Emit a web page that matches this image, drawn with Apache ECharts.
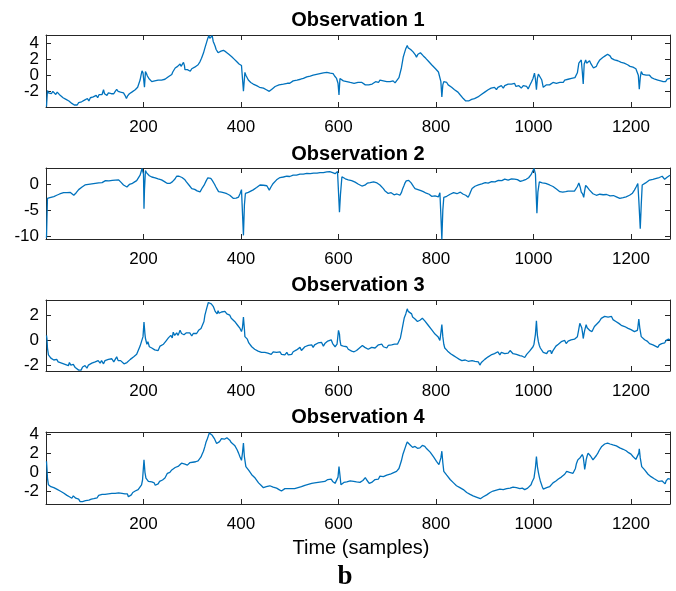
<!DOCTYPE html>
<html>
<head>
<meta charset="UTF-8">
<title>Observations</title>
<script src="https://cdn.jsdelivr.net/npm/echarts@6/dist/echarts.min.js"></script>
<style>
html, body { margin: 0; padding: 0; background: #fff; }
#chart { width: 676px; height: 591px; }
</style>
</head>
<body>
<div id="chart"></div>
<script>
// [sample, value]
const obs1 = [[1,-3.9],[3,-1.9],[5,-2.2],[8,-2.0],[11,-2.3],[14,-2.0],[17,-2.2],[20,-2.4],[23,-2.1],[26,-2.3],[29,-2.5],[32,-2.5],[35,-2.8],[38,-2.7],[41,-3.0],[44,-2.9],[47,-3.2],[50,-3.2],[53,-3.5],[55,-3.4],[58,-3.7],[60,-3.8],[62,-3.6],[64,-3.7],[67,-3.4],[70,-3.6],[73,-3.3],[76,-3.4],[79,-3.1],[82,-3.2],[85,-2.9],[88,-3.2],[91,-2.8],[94,-3.0],[97,-2.7],[100,-2.8],[103,-2.5],[106,-2.8],[109,-2.4],[111,-2.6],[115,-2.4],[118,-1.8],[120,-2.3],[122,-2.2],[125,-2.5],[128,-2.2],[131,-2.4],[134,-2.3],[137,-2.1],[139,-2.3],[142,-2.0],[145,-1.75],[148,-2.0],[150,-1.9],[153,-2.1],[155,-1.9],[157,-2.1],[159,-2.2],[162,-2.5],[165,-2.9],[167,-2.6],[169,-2.5],[171,-2.3],[173,-2.3],[176,-2.1],[180,-2.1],[183,-1.8],[186,-1.7],[188,-1.5],[190,-1.3],[193,-0.6],[195,0.0],[197,0.55],[199,0.3],[200,0.2],[202,-1.5],[204,0.45],[206,0.2],[208,-0.1],[211,-0.4],[214,-0.6],[217,-0.8],[220,-0.9],[223,-0.7],[226,-0.8],[230,-0.6],[234,-0.8],[237,-0.6],[240,-0.7],[244,-0.5],[248,-0.6],[251,-0.2],[255,0.0],[258,0.1],[260,0.4],[263,0.6],[265,0.9],[268,0.7],[270,1.1],[273,1.0],[275,1.4],[277,1.1],[279,1.3],[282,1.6],[284,1.2],[285,0.7],[288,0.9],[290,0.7],[293,0.8],[296,0.5],[299,0.8],[302,0.7],[305,1.0],[309,1.1],[312,1.3],[316,1.7],[319,2.1],[323,2.75],[326,3.4],[330,4.2],[332,4.6],[334,4.9],[336,4.6],[338,4.8],[341,4.9],[343,4.2],[345,3.9],[347,3.6],[349,3.2],[350,3.0],[353,2.8],[357,2.75],[359,3.0],[362,2.9],[364,3.1],[367,3.2],[369,2.9],[372,2.9],[375,2.6],[378,2.5],[381,2.3],[383,2.3],[386,2.0],[388,1.9],[391,1.7],[393,1.6],[396,1.4],[398,1.3],[401,1.2],[403,1.1],[405,-2.0],[408,0.35],[410,0.0],[412,-0.2],[415,-0.6],[418,-0.7],[420,-0.9],[423,-0.8],[425,-1.1],[428,-1.0],[432,-1.3],[435,-1.2],[438,-1.5],[442,-1.3],[446,-1.6],[449,-1.5],[452,-1.8],[455,-1.7],[458,-2.0],[461,-1.9],[464,-1.7],[467,-1.6],[470,-1.4],[474,-1.5],[478,-1.2],[482,-1.4],[487,-1.1],[491,-1.3],[495,-1.0],[498,-1.2],[500,-1.0],[504,-0.9],[507,-0.7],[511,-0.9],[515,-0.6],[518,-0.8],[522,-0.5],[525,-0.7],[528,-0.4],[532,-0.5],[535,-0.2],[538,-0.4],[542,-0.1],[545,-0.3],[548,0.0],[552,-0.1],[555,0.1],[558,0.0],[562,0.2],[565,0.1],[569,0.3],[572,0.15],[576,0.35],[579,0.2],[583,0.25],[586,0.1],[589,0.2],[592,-0.1],[596,-0.4],[599,-1.0],[601,-2.45],[603,-0.4],[606,-0.5],[610,-0.7],[613,-0.6],[617,-0.8],[620,-0.7],[624,-0.9],[628,-0.8],[632,-1.0],[636,-0.8],[640,-0.9],[644,-1.1],[648,-0.9],[652,-1.0],[655,-1.2],[658,-1.0],[662,-1.2],[665,-1.0],[669,-1.1],[672,-0.9],[676,-0.8],[679,-0.7],[682,-0.9],[685,-0.6],[689,-0.8],[692,-0.7],[695,-0.9],[699,-0.8],[702,-1.0],[706,-0.8],[709,-0.9],[712,-0.7],[716,-0.95],[719,-0.7],[722,-0.5],[724,-0.3],[726,-0.15],[729,0.9],[733,2.3],[736,2.9],[738,3.3],[741,3.7],[743,3.4],[745,3.5],[748,3.2],[750,3.3],[753,2.9],[755,2.8],[758,2.5],[760,2.25],[763,2.6],[765,2.5],[768,2.8],[771,2.7],[774,2.4],[776,2.4],[779,2.1],[781,2.0],[785,1.7],[788,1.6],[791,1.3],[795,1.2],[799,0.8],[802,0.7],[805,0.4],[808,0.25],[810,-0.8],[812,-2.7],[814,-1.2],[816,-0.8],[819,-1.0],[822,-0.9],[825,-1.2],[829,-1.3],[832,-1.5],[835,-1.6],[838,-1.8],[842,-2.0],[845,-2.1],[849,-2.4],[852,-2.6],[856,-2.9],[858,-2.9],[861,-3.2],[863,-3.3],[865,-3.4],[867,-3.2],[870,-3.3],[873,-3.0],[876,-3.1],[879,-2.9],[883,-2.9],[886,-2.7],[890,-2.7],[893,-2.4],[897,-2.4],[900,-2.1],[904,-2.1],[907,-1.8],[910,-1.9],[913,-1.6],[917,-1.7],[920,-1.5],[924,-1.8],[927,-1.5],[931,-1.5],[934,-1.3],[938,-1.6],[941,-1.3],[945,-1.4],[948,-1.1],[952,-1.3],[955,-1.1],[958,-1.2],[961,-1.0],[964,-1.4],[967,-1.2],[970,-1.3],[973,-1.4],[975,-1.6],[979,-1.3],[982,-1.5],[986,-1.4],[989,-1.7],[992,-1.3],[996,-0.8],[999,-0.4],[1002,0.25],[1004,-0.5],[1006,-1.8],[1008,-0.4],[1010,0.15],[1012,0.0],[1014,0.1],[1017,-0.6],[1020,-1.5],[1023,-1.3],[1026,-1.2],[1030,-1.4],[1033,-1.2],[1036,-1.1],[1040,-0.9],[1043,-1.1],[1047,-1.0],[1050,-0.8],[1054,-0.9],[1057,-0.7],[1061,-0.9],[1064,-0.6],[1068,-0.7],[1071,-0.5],[1074,-0.6],[1078,-0.4],[1081,-0.6],[1085,-0.3],[1088,-0.4],[1090,0.3],[1093,1.5],[1096,1.3],[1098,1.9],[1100,0.5],[1102,-1.1],[1104,1.4],[1107,1.9],[1109,1.5],[1111,1.7],[1113,1.4],[1115,1.8],[1118,1.4],[1120,1.2],[1123,0.9],[1126,0.75],[1129,1.1],[1131,1.4],[1134,1.6],[1136,1.9],[1139,2.0],[1142,2.2],[1145,2.1],[1147,2.4],[1150,2.3],[1152,2.6],[1155,2.4],[1157,2.4],[1160,2.1],[1163,2.1],[1166,1.9],[1170,2.1],[1173,1.8],[1177,1.9],[1180,1.6],[1183,1.8],[1186,1.5],[1190,1.6],[1193,1.3],[1195,1.4],[1198,1.1],[1200,1.3],[1204,1.0],[1207,1.1],[1210,0.8],[1214,0.9],[1215,0.0],[1217,-1.75],[1219,-0.3],[1221,0.45],[1224,0.1],[1228,0.3],[1231,0.0],[1235,-0.1],[1238,0.0],[1242,-0.3],[1245,-0.2],[1249,-0.5],[1252,-0.3],[1255,-0.6],[1258,-0.4],[1261,-0.7],[1264,-0.6],[1266,-0.8],[1269,-0.6],[1271,-0.8],[1274,-0.5],[1276,-0.4],[1278,-0.6],[1280,-0.4]];

const obs2 = [[1,-10.4],[3,-2.7],[6,-2.75],[8,-2.55],[12,-2.6],[16,-2.35],[19,-2.45],[22,-2.1],[25,-2.2],[28,-1.85],[32,-1.9],[36,-1.6],[40,-1.75],[43,-1.6],[47,-1.75],[50,-1.55],[54,-1.8],[57,-2.1],[60,-1.8],[62,-1.6],[65,-1.3],[67,-1.0],[71,-0.8],[74,-0.5],[77,-0.4],[80,-0.1],[84,0.2],[87,0.0],[90,0.15],[94,0.1],[97,0.35],[101,0.2],[104,0.45],[108,0.3],[111,0.55],[115,0.35],[118,0.45],[122,0.75],[125,0.6],[129,0.7],[132,0.55],[136,0.8],[139,0.65],[142,0.85],[145,0.75],[149,0.9],[152,0.6],[154,0.4],[157,0.1],[159,-0.1],[163,-0.4],[166,-0.5],[168,-0.2],[171,0.0],[174,0.25],[176,0.15],[179,0.35],[181,0.45],[184,0.5],[186,0.75],[190,1.1],[193,1.8],[197,3.1],[200,2.0],[201,-4.7],[202,-1.0],[204,2.7],[206,2.3],[209,2.0],[212,1.7],[214,1.5],[217,1.45],[220,1.25],[224,1.3],[227,1.05],[230,1.1],[234,0.85],[237,0.9],[240,0.65],[243,0.55],[246,0.4],[249,0.2],[251,0.05],[254,0.2],[256,0.35],[259,0.5],[261,0.75],[264,1.0],[266,1.3],[268,1.6],[270,1.8],[273,1.6],[276,1.55],[279,1.35],[282,1.25],[285,0.9],[288,0.5],[291,0.2],[294,-0.2],[297,-0.5],[299,-0.8],[302,-0.75],[305,-0.95],[308,-1.0],[310,-1.25],[313,-1.2],[316,-1.45],[318,-1.1],[321,-0.6],[324,-0.2],[326,0.2],[328,0.6],[330,0.9],[332,1.3],[334,1.5],[336,1.35],[338,1.2],[341,0.8],[343,0.5],[346,0.0],[348,-0.4],[351,-0.9],[354,-1.4],[357,-1.35],[360,-1.5],[363,-1.45],[366,-1.65],[369,-1.6],[371,-1.8],[374,-1.9],[377,-2.1],[380,-2.4],[384,-2.7],[387,-2.55],[390,-2.65],[393,-2.35],[395,-2.45],[398,-1.8],[401,-1.0],[403,-1.2],[405,-9.9],[407,-4.0],[409,-1.75],[412,-1.65],[415,-1.55],[418,-1.4],[420,-1.3],[423,-1.2],[425,-1.05],[429,-0.8],[432,-0.6],[436,-0.3],[439,-0.1],[442,-0.2],[446,-0.15],[449,-0.3],[453,-0.25],[456,-0.6],[458,-1.1],[460,-0.8],[462,-0.4],[466,0.2],[469,0.55],[473,0.9],[476,1.1],[480,1.35],[484,1.25],[487,1.45],[490,1.35],[494,1.6],[497,1.45],[500,1.55],[504,1.7],[507,1.8],[511,1.65],[514,1.8],[518,1.95],[521,2.0],[525,1.85],[528,2.0],[532,2.1],[535,2.15],[539,2.0],[542,2.1],[546,2.25],[549,2.2],[553,2.1],[556,2.2],[559,2.35],[562,2.3],[566,2.45],[569,2.3],[573,2.5],[576,2.45],[579,2.35],[582,2.5],[586,2.4],[588,2.3],[591,2.25],[593,2.1],[596,2.3],[598,2.5],[600,2.45],[602,-5.4],[604,-2.0],[607,1.5],[610,1.35],[614,1.1],[617,1.15],[620,0.9],[624,0.85],[627,0.75],[630,0.55],[634,0.45],[637,0.2],[641,0.05],[644,-0.15],[648,-0.3],[651,-0.45],[654,-0.15],[656,0.0],[659,0.25],[662,0.15],[665,0.35],[668,0.3],[672,0.5],[675,0.4],[679,0.3],[682,0.15],[685,-0.1],[688,-0.4],[692,-0.8],[695,-1.2],[699,-1.5],[702,-1.75],[705,-1.55],[708,-1.6],[711,-1.9],[714,-2.0],[717,-1.75],[720,-1.85],[723,-2.1],[726,-2.1],[729,-1.6],[731,-1.0],[734,-0.3],[736,0.2],[739,0.7],[741,1.0],[744,0.8],[746,0.6],[749,0.3],[751,0.0],[754,-0.4],[757,-0.8],[760,-0.85],[763,-1.0],[766,-1.1],[769,-1.2],[772,-1.25],[774,-1.4],[777,-1.5],[780,-1.7],[783,-1.65],[786,-1.9],[789,-2.0],[791,-2.3],[794,-2.15],[798,-2.2],[801,-2.35],[805,-2.4],[808,-1.6],[810,-6.0],[812,-10.7],[814,-5.0],[816,-2.5],[819,-2.35],[822,-2.3],[825,-2.1],[829,-1.9],[832,-1.8],[836,-1.6],[839,-1.75],[843,-1.8],[846,-1.6],[850,-1.5],[853,-1.7],[856,-1.9],[859,-1.85],[861,-2.1],[864,-2.3],[866,-2.5],[869,-1.9],[871,-1.4],[874,-0.8],[876,-0.45],[880,-0.35],[883,-0.3],[887,-0.1],[890,0.0],[894,0.1],[897,0.2],[901,0.35],[904,0.4],[907,0.25],[910,0.3],[914,0.55],[917,0.7],[921,0.5],[924,0.6],[928,0.8],[931,0.9],[935,0.75],[938,0.85],[941,1.05],[945,1.0],[948,0.85],[951,0.9],[955,1.1],[958,1.2],[961,1.05],[964,1.1],[967,0.95],[970,0.8],[973,0.6],[975,0.5],[978,0.75],[982,0.9],[985,1.0],[988,1.1],[990,1.3],[992,1.5],[995,1.9],[997,2.2],[999,2.7],[1001,3.1],[1004,2.0],[1007,-5.6],[1009,-1.5],[1012,0.5],[1015,0.35],[1018,0.3],[1021,0.4],[1025,0.2],[1029,0.1],[1033,-0.1],[1036,-0.2],[1040,-0.4],[1043,-0.6],[1047,-0.9],[1050,-1.1],[1054,-1.4],[1057,-1.3],[1060,-1.5],[1062,-1.6],[1064,-1.75],[1066,-1.4],[1069,-1.2],[1071,-1.3],[1074,-1.1],[1077,-1.3],[1081,-1.6],[1084,-1.3],[1088,-1.1],[1090,-0.4],[1093,0.3],[1095,0.0],[1096,-0.6],[1098,-1.5],[1101,-1.9],[1103,-2.5],[1105,-1.2],[1107,-0.2],[1109,-0.4],[1111,-0.6],[1113,-0.9],[1115,-1.1],[1118,-1.4],[1122,-1.8],[1125,-1.9],[1129,-2.1],[1132,-1.85],[1136,-1.9],[1139,-2.1],[1143,-2.0],[1146,-1.85],[1150,-1.95],[1153,-2.1],[1157,-2.2],[1160,-2.05],[1164,-2.15],[1167,-2.3],[1170,-2.4],[1174,-2.55],[1177,-2.7],[1180,-2.5],[1184,-2.55],[1187,-2.35],[1190,-2.4],[1194,-2.25],[1197,-2.1],[1200,-1.9],[1203,-1.7],[1205,-1.4],[1207,-1.1],[1209,-0.8],[1211,-0.4],[1214,0.2],[1216,-3.0],[1219,-8.6],[1221,-4.0],[1223,-0.1],[1226,0.1],[1230,0.3],[1234,0.6],[1238,0.85],[1241,0.8],[1245,1.0],[1248,1.05],[1252,1.2],[1255,1.15],[1258,1.35],[1261,1.4],[1264,1.6],[1266,1.3],[1269,1.0],[1272,1.2],[1274,1.4],[1277,1.6],[1280,1.8]];

const obs3 = [[1,0.4],[2,0.1],[3,-0.6],[5,-1.15],[7,-1.3],[10,-1.4],[13,-1.3],[16,-1.55],[19,-1.4],[22,-1.5],[25,-1.7],[29,-1.55],[32,-1.8],[36,-1.65],[39,-1.9],[43,-1.8],[46,-2.0],[48,-1.75],[51,-1.95],[53,-2.1],[56,-1.9],[60,-2.15],[63,-2.0],[67,-2.35],[70,-2.2],[72,-2.35],[75,-2.1],[77,-2.25],[80,-2.0],[84,-2.2],[87,-1.95],[91,-2.05],[94,-1.8],[98,-1.95],[101,-1.7],[104,-1.85],[107,-1.6],[111,-1.8],[114,-1.6],[118,-1.85],[121,-1.6],[125,-1.7],[128,-1.5],[132,-1.65],[135,-1.45],[139,-1.7],[142,-1.5],[145,-1.3],[148,-1.6],[150,-1.45],[153,-1.6],[156,-1.75],[160,-1.85],[163,-2.0],[166,-1.75],[170,-1.8],[173,-1.5],[176,-1.6],[180,-1.3],[183,-1.45],[186,-1.1],[190,-1.25],[193,-0.45],[197,-0.3],[199,0.3],[201,1.45],[203,0.5],[204,0.15],[207,-0.3],[209,-0.1],[212,-0.5],[214,-0.4],[217,-0.6],[220,-0.45],[223,-0.75],[227,-0.6],[230,-0.8],[234,-0.45],[237,-0.6],[241,-0.3],[244,-0.45],[246,-0.05],[249,-0.15],[251,0.2],[254,0.05],[256,0.4],[259,0.2],[261,0.65],[264,0.4],[268,0.6],[271,0.4],[275,0.8],[278,0.55],[280,0.7],[283,0.45],[285,0.35],[288,0.6],[292,0.45],[295,0.6],[299,0.35],[302,0.55],[306,0.7],[309,0.55],[313,0.8],[316,0.7],[318,0.95],[322,1.05],[324,1.5],[326,2.0],[328,2.3],[330,2.6],[333,3.0],[335,2.9],[337,3.15],[339,2.9],[341,3.05],[343,2.7],[345,2.5],[347,2.3],[349,2.25],[351,2.1],[353,2.35],[355,2.15],[357,2.0],[360,2.25],[364,2.1],[367,2.3],[371,2.1],[374,2.0],[377,2.0],[380,1.75],[384,1.8],[387,1.5],[390,1.5],[393,1.2],[395,1.3],[398,0.95],[401,0.7],[403,1.0],[405,1.85],[407,0.9],[408,0.3],[410,0.15],[413,0.1],[416,-0.2],[419,-0.25],[422,-0.5],[425,-0.45],[428,-0.7],[432,-0.7],[435,-0.85],[439,-0.75],[442,-0.95],[446,-0.85],[449,-0.95],[452,-0.8],[455,-1.0],[459,-0.85],[462,-1.1],[466,-0.9],[469,-1.05],[473,-0.95],[476,-1.1],[480,-0.9],[483,-1.1],[487,-1.0],[490,-1.15],[494,-0.95],[497,-1.15],[500,-1.05],[504,-1.1],[507,-0.9],[511,-0.95],[514,-0.75],[518,-0.7],[521,-0.55],[524,-0.8],[528,-0.65],[531,-0.5],[535,-0.6],[538,-0.4],[541,-0.5],[545,-0.35],[548,-0.55],[551,-0.35],[555,-0.45],[558,-0.2],[562,-0.35],[565,-0.15],[569,-0.45],[572,-0.25],[575,-0.3],[578,-0.05],[582,-0.1],[585,0.05],[588,-0.25],[591,-0.3],[593,-0.5],[597,-0.3],[600,0.8],[602,0.5],[603,0.0],[605,-0.4],[607,-0.5],[610,-0.45],[614,-0.6],[617,-0.5],[620,-0.7],[624,-0.65],[627,-0.85],[629,-0.75],[632,-0.9],[634,-1.05],[637,-0.8],[640,-0.7],[643,-0.6],[646,-0.65],[649,-0.4],[651,-0.35],[654,-0.55],[658,-0.5],[661,-0.7],[665,-0.8],[668,-0.55],[672,-0.45],[675,-0.6],[679,-0.5],[682,-0.35],[685,-0.45],[689,-0.3],[692,-0.5],[695,-0.4],[699,-0.6],[702,-0.4],[706,-0.55],[709,-0.35],[712,-0.5],[715,-0.3],[718,-0.45],[721,-0.3],[723,-0.2],[727,0.2],[730,0.8],[733,1.4],[735,1.8],[738,2.1],[741,2.5],[743,2.3],[745,2.35],[747,2.15],[750,2.1],[752,1.85],[754,1.95],[757,1.7],[759,1.75],[762,1.5],[764,1.45],[767,1.6],[769,1.5],[772,1.75],[774,1.65],[777,1.55],[781,1.4],[784,1.2],[788,1.1],[791,0.85],[795,0.75],[798,0.5],[801,0.4],[804,0.3],[806,0.15],[808,0.0],[810,0.6],[812,1.25],[814,0.3],[816,-0.3],[818,-0.6],[821,-0.7],[824,-0.85],[827,-0.8],[830,-1.05],[833,-0.95],[836,-1.2],[839,-1.1],[842,-1.35],[845,-1.25],[848,-1.5],[851,-1.4],[853,-1.6],[856,-1.45],[860,-1.55],[863,-1.5],[866,-1.65],[868,-1.5],[870,-1.7],[874,-1.6],[877,-1.75],[880,-1.65],[884,-1.8],[887,-1.7],[890,-1.95],[893,-1.75],[897,-1.7],[900,-1.5],[904,-1.5],[907,-1.3],[910,-1.4],[913,-1.15],[917,-1.3],[920,-1.05],[924,-1.1],[927,-0.9],[931,-1.15],[934,-0.95],[938,-0.85],[941,-1.05],[945,-0.9],[948,-1.0],[952,-0.8],[955,-0.95],[958,-1.05],[962,-0.9],[965,-1.1],[968,-1.0],[972,-1.2],[975,-1.1],[977,-1.25],[980,-1.15],[982,-1.35],[986,-1.1],[989,-1.05],[992,-0.85],[996,-0.7],[999,-0.5],[1001,-0.3],[1004,0.5],[1006,1.55],[1008,0.4],[1010,-0.1],[1012,-0.4],[1014,-0.6],[1016,-0.75],[1018,-0.65],[1020,-0.95],[1023,-0.85],[1027,-1.05],[1030,-0.85],[1033,-0.95],[1035,-0.8],[1037,-1.05],[1040,-0.8],[1043,-0.7],[1046,-0.45],[1048,-0.55],[1051,-0.3],[1054,-0.3],[1057,-0.1],[1061,-0.2],[1064,0.0],[1067,-0.25],[1071,-0.05],[1074,-0.15],[1077,0.05],[1081,-0.05],[1084,0.1],[1088,-0.05],[1090,0.3],[1092,0.7],[1095,1.35],[1097,1.2],[1099,1.0],[1101,0.5],[1102,0.15],[1104,0.6],[1105,0.8],[1108,1.25],[1110,1.0],[1113,1.05],[1115,0.8],[1118,0.95],[1120,0.7],[1122,0.85],[1125,1.1],[1127,1.0],[1130,1.3],[1132,1.45],[1135,1.5],[1139,1.75],[1142,1.6],[1146,1.9],[1149,1.75],[1153,1.85],[1156,1.7],[1160,1.9],[1163,1.65],[1166,1.7],[1169,1.5],[1172,1.55],[1175,1.35],[1177,1.4],[1180,1.2],[1184,1.3],[1187,1.1],[1190,1.15],[1194,0.95],[1197,1.0],[1200,0.85],[1204,0.9],[1207,0.7],[1211,0.6],[1213,0.8],[1214,1.0],[1216,1.7],[1218,1.0],[1221,0.3],[1224,0.25],[1228,0.05],[1231,0.15],[1233,-0.05],[1236,0.0],[1238,-0.25],[1241,-0.15],[1245,-0.35],[1248,-0.25],[1250,-0.45],[1253,-0.35],[1255,-0.55],[1258,-0.35],[1260,-0.45],[1263,-0.25],[1265,-0.3],[1267,-0.1],[1269,-0.2],[1272,0.0],[1274,-0.1],[1277,0.1],[1280,0.05]];

const obs4 = [[1,1.15],[2,0.4],[3,-0.6],[5,-1.3],[8,-1.35],[10,-1.5],[13,-1.4],[16,-1.6],[19,-1.55],[22,-1.75],[25,-1.7],[29,-1.95],[32,-1.9],[36,-2.15],[39,-2.05],[43,-2.4],[46,-2.3],[48,-2.55],[51,-2.4],[53,-2.7],[56,-2.45],[58,-2.6],[61,-2.7],[64,-2.85],[67,-2.8],[70,-3.05],[73,-2.9],[75,-3.05],[78,-2.85],[81,-2.95],[85,-2.8],[88,-2.9],[91,-2.7],[93,-2.8],[96,-2.65],[98,-2.75],[102,-2.55],[105,-2.65],[108,-2.4],[111,-2.5],[115,-2.3],[118,-2.45],[121,-2.3],[125,-2.45],[128,-2.25],[132,-2.35],[135,-2.2],[139,-2.3],[142,-2.2],[146,-2.35],[149,-2.15],[152,-2.3],[156,-2.2],[159,-2.4],[162,-2.25],[164,-2.35],[167,-2.25],[169,-2.55],[172,-2.35],[175,-2.35],[178,-2.1],[180,-2.2],[183,-1.95],[186,-2.0],[189,-1.8],[192,-1.8],[196,-1.3],[198,-0.8],[201,1.3],[203,0.0],[205,-0.6],[207,-0.75],[210,-0.95],[212,-0.85],[214,-1.1],[217,-1.0],[219,-1.2],[222,-1.1],[224,-1.35],[227,-1.15],[230,-1.2],[233,-0.95],[236,-1.05],[239,-0.8],[241,-0.9],[244,-0.6],[246,-0.4],[249,-0.1],[251,0.1],[254,0.0],[258,0.25],[261,0.1],[265,0.5],[268,0.35],[272,0.65],[275,0.5],[278,0.95],[280,0.8],[282,1.1],[285,0.85],[287,0.95],[290,0.75],[292,0.85],[295,1.0],[298,0.9],[301,1.05],[304,0.85],[307,1.1],[309,1.0],[312,1.2],[315,1.3],[318,1.6],[320,1.85],[323,2.2],[326,2.7],[328,3.1],[331,3.5],[333,3.8],[335,4.1],[337,3.95],[339,4.05],[341,3.85],[343,3.75],[346,3.45],[348,3.3],[350,3.0],[352,2.9],[354,3.15],[356,3.2],[358,3.4],[360,3.5],[363,3.35],[366,3.45],[368,3.3],[371,3.6],[374,3.4],[377,3.35],[380,3.1],[384,3.05],[387,2.8],[390,2.6],[392,2.35],[395,2.0],[398,1.6],[401,1.25],[403,2.0],[405,3.05],[407,1.6],[410,0.6],[413,0.4],[416,0.2],[419,0.0],[422,-0.25],[425,-0.35],[429,-0.6],[432,-0.8],[436,-1.1],[438,-1.2],[441,-1.35],[443,-1.45],[446,-1.6],[449,-1.4],[452,-1.5],[455,-1.3],[459,-1.4],[462,-1.35],[466,-1.55],[469,-1.45],[473,-1.65],[475,-1.6],[478,-1.8],[480,-1.7],[483,-1.95],[486,-1.75],[490,-1.7],[493,-1.85],[496,-1.7],[498,-1.85],[500,-1.65],[504,-1.7],[507,-1.55],[510,-1.7],[514,-1.5],[517,-1.6],[521,-1.4],[524,-1.5],[528,-1.3],[531,-1.35],[535,-1.15],[538,-1.25],[541,-1.05],[545,-1.15],[548,-1.0],[551,-1.1],[555,-0.95],[558,-1.05],[562,-0.9],[565,-1.0],[569,-0.8],[572,-0.95],[575,-0.85],[578,-0.75],[582,-0.85],[585,-0.7],[588,-0.95],[591,-1.0],[593,-1.15],[596,-1.3],[599,-0.5],[601,0.6],[603,-0.3],[605,-1.3],[608,-1.15],[611,-1.05],[614,-1.15],[617,-1.0],[621,-1.1],[624,-0.9],[628,-1.05],[631,-0.95],[634,-1.1],[637,-1.0],[641,-1.15],[644,-1.05],[647,-1.0],[650,-0.85],[653,-0.7],[655,-0.55],[658,-0.8],[660,-0.95],[663,-1.15],[665,-1.3],[668,-1.05],[672,-0.85],[675,-0.75],[679,-0.6],[682,-0.7],[685,-0.4],[689,-0.55],[692,-0.45],[695,-0.55],[699,-0.3],[702,-0.4],[706,-0.2],[709,-0.3],[712,-0.05],[716,-0.15],[719,0.1],[722,0.2],[724,0.4],[726,0.6],[729,1.2],[732,1.85],[735,2.3],[737,2.6],[739,2.9],[741,3.15],[743,3.0],[745,3.05],[747,2.85],[750,2.8],[752,2.6],[754,2.55],[757,2.7],[759,2.65],[762,2.5],[764,2.35],[767,2.55],[769,2.7],[772,2.8],[774,2.95],[777,2.7],[779,2.6],[781,2.45],[784,2.35],[788,2.1],[791,1.9],[795,1.6],[798,1.4],[801,1.15],[804,0.95],[806,0.8],[808,0.6],[810,1.5],[812,2.2],[814,1.0],[816,0.1],[819,-0.05],[822,-0.3],[825,-0.45],[829,-0.75],[832,-0.85],[836,-1.1],[839,-1.2],[842,-1.4],[845,-1.45],[849,-1.6],[852,-1.7],[856,-1.8],[859,-1.95],[863,-2.1],[866,-2.2],[870,-2.3],[873,-2.35],[876,-2.45],[880,-2.5],[884,-2.6],[887,-2.55],[891,-2.75],[894,-2.6],[897,-2.55],[900,-2.4],[904,-2.35],[907,-2.2],[911,-2.1],[914,-2.0],[917,-1.95],[920,-1.8],[924,-1.85],[927,-1.65],[931,-1.75],[934,-1.6],[938,-1.8],[941,-1.6],[945,-1.7],[948,-1.5],[952,-1.65],[955,-1.45],[958,-1.55],[961,-1.45],[965,-1.6],[968,-1.5],[972,-1.7],[975,-1.55],[977,-1.65],[980,-1.6],[982,-1.8],[985,-1.6],[988,-1.65],[990,-1.5],[992,-1.55],[995,-1.3],[997,-1.0],[1001,-0.6],[1004,0.5],[1006,1.65],[1008,0.6],[1010,0.0],[1012,-0.5],[1014,-0.9],[1016,-1.2],[1018,-1.5],[1020,-1.75],[1023,-1.55],[1027,-1.6],[1030,-1.4],[1033,-1.5],[1035,-1.3],[1037,-1.4],[1040,-1.1],[1043,-1.15],[1046,-0.9],[1049,-0.95],[1051,-0.7],[1054,-0.75],[1057,-0.5],[1061,-0.45],[1064,-0.2],[1068,0.1],[1071,-0.1],[1074,0.0],[1077,-0.2],[1081,-0.1],[1084,0.1],[1086,0.4],[1088,0.9],[1091,1.3],[1094,1.2],[1096,1.55],[1098,1.45],[1100,1.85],[1102,1.6],[1104,0.8],[1105,0.3],[1107,0.9],[1108,1.3],[1110,1.7],[1112,2.0],[1115,1.85],[1117,1.7],[1120,1.5],[1122,1.3],[1125,1.5],[1129,1.75],[1132,2.0],[1135,2.3],[1138,2.5],[1140,2.7],[1143,2.8],[1146,2.95],[1149,2.9],[1152,3.05],[1155,2.85],[1157,2.95],[1160,2.8],[1163,2.85],[1166,2.65],[1170,2.75],[1173,2.55],[1177,2.55],[1180,2.4],[1184,2.4],[1187,2.2],[1190,2.25],[1193,2.05],[1195,2.05],[1198,1.85],[1200,1.9],[1204,1.65],[1207,1.55],[1210,1.35],[1212,1.25],[1214,1.15],[1216,2.0],[1217,2.45],[1219,1.5],[1222,0.6],[1225,0.45],[1228,0.25],[1231,0.05],[1235,-0.2],[1238,-0.3],[1241,-0.45],[1244,-0.45],[1247,-0.65],[1250,-0.65],[1252,-0.8],[1255,-0.75],[1257,-0.95],[1259,-0.85],[1261,-1.15],[1264,-0.9],[1266,-1.0],[1268,-0.85],[1270,-1.2],[1272,-0.9],[1274,-0.8],[1276,-0.65],[1278,-0.75],[1280,-0.7]];

const titles = ['Observation 1', 'Observation 2', 'Observation 3', 'Observation 4'];
const yLimits = [[-3.95, 5.0], [-10.6, 3.2], [-2.42, 3.2], [-3.3, 4.2]];
const ySplits = [4, 3, 3, 4];
const xLimits = [0, 1280];
const xLabel = 'Time (samples)';
const panelLetter = 'b';

const chart = echarts.init(document.getElementById('chart'));

const font = "'Liberation Sans', Arial, Helvetica, sans-serif";
const axisColor = '#262626';
const lineColor = '#0072BD';
const gridTops = [35, 168, 300, 432];
const gridHeights = [72, 71, 71, 72];
const titleY = [20, 154, 285, 417];
const allObs = [obs1, obs2, obs3, obs4];

const grids = [], xAxes = [], yAxes = [], series = [], texts = [];

allObs.forEach(function (obs, i) {
	grids.push({ left: 46, right: 6, top: gridTops[i], height: gridHeights[i] });

	const xBase = {
		type: 'value', gridIndex: i, min: xLimits[0], max: xLimits[1], interval: 200,
		axisLine: { show: true, onZero: false, lineStyle: { color: axisColor, width: 1 } },
		axisTick: { show: true, inside: true, length: 5, lineStyle: { color: axisColor } },
		splitLine: { show: false }
	};
	// bottom axis carries the labels, top axis only the box ticks
	xAxes.push(Object.assign({}, xBase, {
		position: 'bottom',
		axisLabel: {
			show: true, margin: 12, fontSize: 17, color: '#000', fontFamily: font,
			showMinLabel: false, showMaxLabel: false,
			formatter: function (v) { return String(v); }
		}
	}));
	xAxes.push(Object.assign({}, xBase, { position: 'top', axisLabel: { show: false } }));

	const yBase = {
		type: 'value', gridIndex: i, min: yLimits[i][0], max: yLimits[i][1], splitNumber: ySplits[i],
		axisLine: { show: true, onZero: false, lineStyle: { color: axisColor, width: 1 } },
		axisTick: { show: true, inside: true, length: 5, lineStyle: { color: axisColor } },
		splitLine: { show: false }
	};
	yAxes.push(Object.assign({}, yBase, {
		position: 'left',
		axisLabel: { show: true, margin: 7, fontSize: 17, color: '#000', fontFamily: font, showMinLabel: false, showMaxLabel: false }
	}));
	yAxes.push(Object.assign({}, yBase, { position: 'right', axisLabel: { show: false } }));

	series.push({
		type: 'line', xAxisIndex: i * 2, yAxisIndex: i * 2,
		data: obs, showSymbol: false, symbol: 'none', sampling: 'none',
		lineStyle: { color: lineColor, width: 1.3 }, clip: true
	});

	texts.push({
		type: 'text', x: 358, y: titleY[i],
		style: { text: titles[i], fill: '#000', font: 'bold 20px ' + font, align: 'center', verticalAlign: 'middle', textAlign: 'center', textVerticalAlign: 'middle' }
	});
});

texts.push({
	type: 'text', x: 361, y: 548,
	style: { text: xLabel, fill: '#000', font: '20px ' + font, align: 'center', verticalAlign: 'middle', textAlign: 'center', textVerticalAlign: 'middle' }
});
texts.push({
	type: 'text', x: 345, y: 577,
	style: { text: panelLetter, fill: '#000', font: "bold 27px 'Liberation Serif', 'Times New Roman', serif", align: 'center', verticalAlign: 'middle', textAlign: 'center', textVerticalAlign: 'middle' }
});

chart.setOption({
	animation: false,
	backgroundColor: '#fff',
	grid: grids,
	xAxis: xAxes,
	yAxis: yAxes,
	series: series,
	graphic: { elements: texts }
});
</script>
</body>
</html>
